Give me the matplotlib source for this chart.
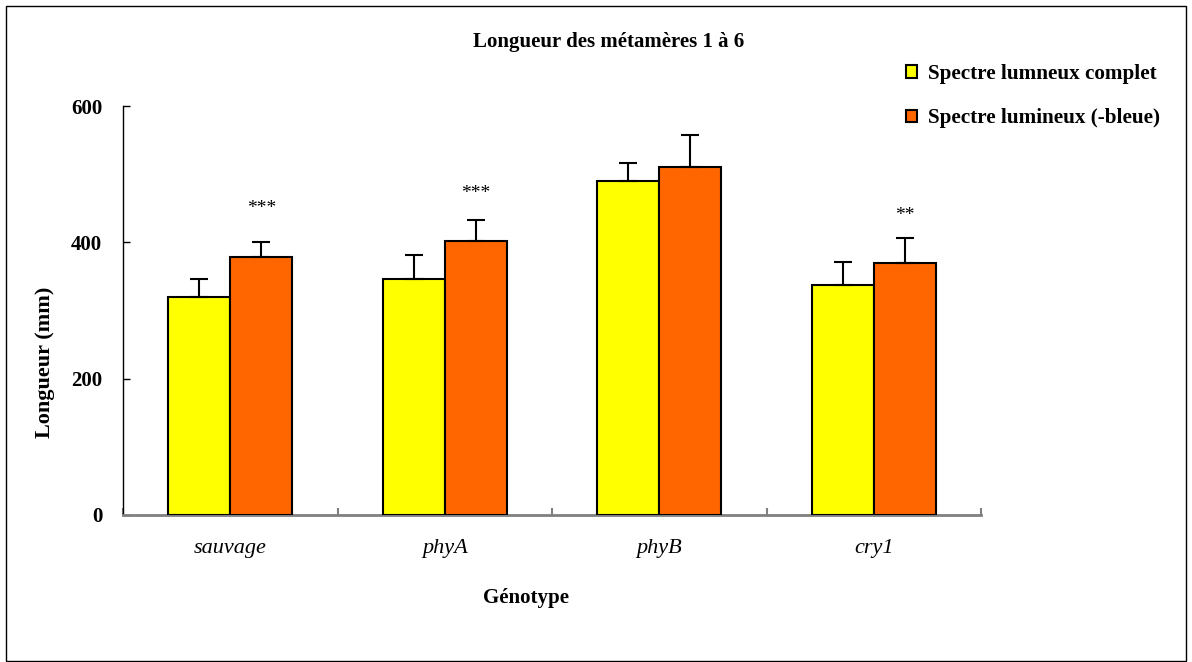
import matplotlib
matplotlib.use("Agg")
import matplotlib.pyplot as plt
from matplotlib.patches import Patch, Rectangle
import numpy as np

# data
genotypes = ["sauvage", "phyA", "phyB", "cry1"]
complet = [320, 346, 490, 338]
complet_err = [26, 36, 26, 33]
sans_bleu = [379, 402, 511, 369]
sans_bleu_err = [21, 31, 46, 38]
stars = ["***", "***", "", "**"]
star_y = [450, 472, 0, 439]
series_names = ["Spectre lumneux complet", "Spectre lumineux (-bleue)"]

plt.rcParams['font.family'] = ['Liberation Serif', 'DejaVu Serif']

fig = plt.figure(figsize=(11.92, 6.62), dpi=100)
ax = fig.add_axes([123/1192, 1-515/662, (981-123)/1192, (515-106)/662])

x = np.arange(len(genotypes))
w = 0.29
ekw = dict(elinewidth=1.5, capthick=1.5, ecolor='black')
ax.bar(x - w/2, complet, w, color='#FFFF00', edgecolor='black', linewidth=1.5,
       yerr=[np.zeros(4), complet_err], capsize=6.5, error_kw=ekw, zorder=3)
ax.bar(x + w/2, sans_bleu, w, color='#FF6600', edgecolor='black', linewidth=1.5,
       yerr=[np.zeros(4), sans_bleu_err], capsize=6.5, error_kw=ekw, zorder=3)

for i, s in enumerate(stars):
    if s:
        ax.text(x[i] + w/2, star_y[i], s, ha='center', va='center', fontsize=14)

ax.set_xlim(-0.5, 3.5)
ax.set_ylim(0, 600)
ax.set_yticks([0, 200, 400, 600])
ax.set_yticklabels(["0", "200", "400", "600"], fontweight='bold', fontsize=15)
ax.set_xticks(np.arange(-0.5, 4, 1))
ax.set_xticklabels([])
ax.set_xticks(x, minor=True)
ax.set_xticklabels(genotypes, minor=True, fontstyle='italic', fontsize=16)
ax.tick_params(axis='x', which='minor', length=0, pad=17)
ax.tick_params(axis='x', which='major', direction='in', length=5, color='#808080', width=1.5)
ax.tick_params(axis='y', direction='in', length=5, width=1, pad=15)

for side in ['top', 'right']:
    ax.spines[side].set_visible(False)
ax.spines['bottom'].set_color('#808080')
ax.spines['bottom'].set_linewidth(2)
ax.spines['left'].set_linewidth(1)

fig.text(45/1192, 1-362/662, "Longueur (mm)", rotation=90, ha='center', va='center',
         fontweight='bold', fontsize=16)
fig.text(526/1192, 1-598/662, "Génotype", ha='center', va='center',
         fontweight='bold', fontsize=15)
fig.text(609/1192, 1-42/662, "Longueur des métamères 1 à 6", ha='center', va='center',
         fontweight='bold', fontsize=15)

handles = [Patch(facecolor='#FFFF00', edgecolor='black', linewidth=1.5),
           Patch(facecolor='#FF6600', edgecolor='black', linewidth=1.5)]
fig.legend(handles, series_names, loc='upper left', bbox_to_anchor=(887/1192, 1-45/662),
           frameon=False, handlelength=0.5, handleheight=0.5, handletextpad=0.55,
           labelspacing=1.15, prop=dict(weight='bold', size=15.2))

fig.patches.append(Rectangle((6/1192, 1/662), 1180/1192, 655/662, transform=fig.transFigure,
                             fill=False, edgecolor='black', linewidth=1))

fig.savefig("out.png", dpi=100)
